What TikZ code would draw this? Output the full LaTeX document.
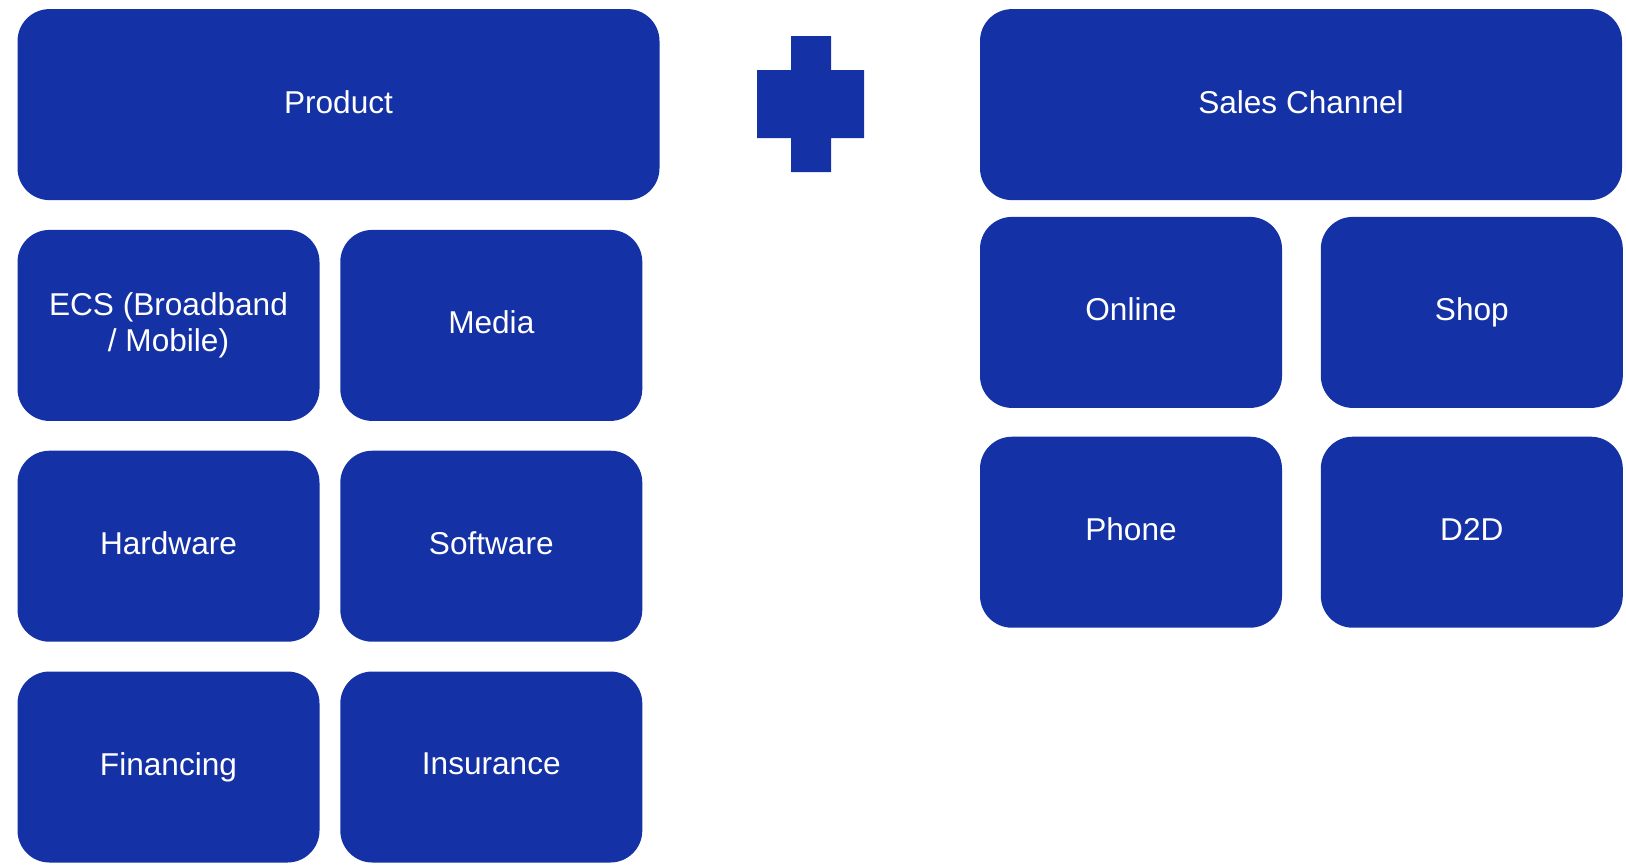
\documentclass[tikz,border=0pt]{standalone}
\usepackage{fontspec}
\setmainfont{Liberation Sans}
\usetikzlibrary{positioning}
\definecolor{boxblue}{RGB}{20,49,165}
\newcommand{\boxstrut}{\rule[-3pt]{0pt}{13pt}}
\begin{document}
\begin{tikzpicture}[x=0.5pt,y=-0.5pt,
  box/.style={rectangle,rounded corners=16pt,fill=boxblue,text=white,inner sep=0pt,
    align=center,font=\fontsize{15.8}{17.6}\selectfont,
    execute at begin node=\boxstrut,execute at end node=\boxstrut},
  bigbox/.style={box,minimum width=321pt,minimum height=95.5pt},
  smallbox/.style={box,minimum width=151pt,minimum height=95.5pt}]
  \useasboundingbox (0,0) rectangle (1626,864);
  % Product side
  \node[bigbox] (product) at (338.5,104.6) {Product};
  \node[smallbox,below=14.5pt of product.south west,anchor=north west] (ecs) {ECS (Broadband\\/ Mobile)};
  \node[smallbox,right=10pt of ecs] (media) {Media};
  \node[smallbox,below=14.5pt of ecs] (hardware) {Hardware};
  \node[smallbox,right=10pt of hardware] (software) {Software};
  \node[smallbox,below=14.5pt of hardware] (financing) {Financing};
  \node[smallbox,right=10pt of financing] (insurance) {Insurance};
  % Plus sign
  \fill[boxblue] (791,36) -- (831,36) -- (831,70) -- (864,70) -- (864,138) -- (831,138)
    -- (831,172) -- (791,172) -- (791,138) -- (757,138) -- (757,70) -- (791,70) -- cycle;
  % Sales channel side
  \node[bigbox] (sales) at (1301,104.6) {Sales Channel};
  \node[smallbox,below=8pt of sales.south west,anchor=north west] (online) {Online};
  \node[smallbox,right=19pt of online] (shop) {Shop};
  \node[smallbox,below=14pt of online] (phone) {Phone};
  \node[smallbox,right=19pt of phone] (dtod) {D2D};
\end{tikzpicture}
\end{document}
